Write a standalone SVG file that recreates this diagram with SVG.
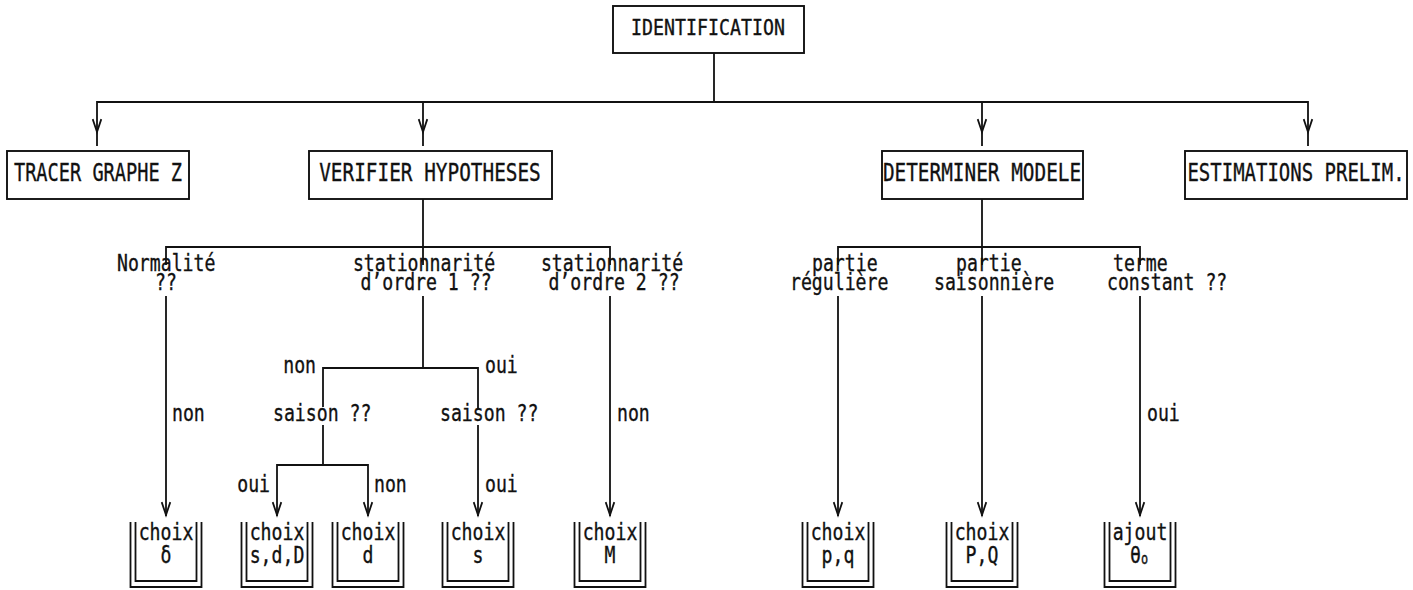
<svg xmlns="http://www.w3.org/2000/svg" xmlns:xlink="http://www.w3.org/1999/xlink" width="1413" height="590" viewBox="0 0 1413 590">
  <style>
    .ln { stroke: #111; stroke-width: 1.8; fill: none; stroke-linecap: square; }
    .box { stroke: #111; stroke-width: 1.9; fill: #fff; }
    .t { font-family: "DejaVu Sans Mono", "Liberation Mono", monospace; font-size: 23px; fill: #111; stroke: #111; stroke-width: 0.35; }
    .tb { font-size: 25px; }
    .tr { font-size: 22px; }
    .mid { text-anchor: middle; }
    .end { text-anchor: end; }
  </style>
  <defs>
    <!-- open V arrowhead, tip at origin, pointing down -->
    <path id="vhead" class="ln" d="M-4,-12 L0,0 L4,-12"/>
    <!-- open-topped double-walled tray used for the leaf choices -->
    <path id="tray" class="ln" d="M-35.5,0 V64 H35.5 V0 M-30.5,0 V58 H30.5 V0"/>
  </defs>
  <rect width="1413" height="590" fill="#fff"/>

  <!-- connectors -->
  <g id="connectors">
    <!-- root to first level -->
    <path class="ln" d="M714,53 V102 M97,102 H1308 M97,102 V145 M423,102 V145 M982,102 V145 M1308,102 V145"/>
    <use xlink:href="#vhead" x="97" y="132"/>
    <use xlink:href="#vhead" x="423" y="132"/>
    <use xlink:href="#vhead" x="982" y="132"/>
    <use xlink:href="#vhead" x="1308" y="132"/>

    <!-- VERIFIER HYPOTHESES branch -->
    <path class="ln" d="M423,199 V247 M166,247 H610 M166,247 V264 M423,247 V264 M610,247 V264"/>
    <path class="ln" d="M166,297 V515 M610,297 V515"/>
    <path class="ln" d="M423,297 V368 M323,368 H478 M323,368 V406 M478,368 V408"/>
    <path class="ln" d="M323,426 V465 M277,465 H368 M277,465 V515 M368,465 V515 M478,426 V515"/>
    <use xlink:href="#vhead" x="166" y="515"/>
    <use xlink:href="#vhead" x="277" y="515"/>
    <use xlink:href="#vhead" x="368" y="515"/>
    <use xlink:href="#vhead" x="478" y="515"/>
    <use xlink:href="#vhead" x="610" y="515"/>

    <!-- DETERMINER MODELE branch -->
    <path class="ln" d="M982,199 V247 M838,247 H1140 M838,247 V264 M982,247 V264 M1140,247 V264"/>
    <path class="ln" d="M838,297 V515 M982,297 V515 M1140,297 V515"/>
    <use xlink:href="#vhead" x="838" y="515"/>
    <use xlink:href="#vhead" x="982" y="515"/>
    <use xlink:href="#vhead" x="1140" y="515"/>

    <!-- answer labels -->
    <text class="t" transform="matrix(0.79 0 0 1 172 421)">non</text>
    <text class="t end" transform="matrix(0.79 0 0 1 316 373)">non</text>
    <text class="t" transform="matrix(0.79 0 0 1 485 373)">oui</text>
    <text class="t end" transform="matrix(0.79 0 0 1 270 492)">oui</text>
    <text class="t" transform="matrix(0.79 0 0 1 374 492)">non</text>
    <text class="t" transform="matrix(0.79 0 0 1 485 492)">oui</text>
    <text class="t" transform="matrix(0.79 0 0 1 617 421)">non</text>
    <text class="t" transform="matrix(0.79 0 0 1 1147 421)">oui</text>
  </g>

  <!-- root -->
  <g id="identification">
    <rect class="box" x="613" y="6" width="191" height="47"/>
    <text class="t tr mid" transform="matrix(0.83 0 0 1 708 35)">IDENTIFICATION</text>
  </g>

  <!-- first level -->
  <g id="tracer-graphe">
    <rect class="box" x="7" y="151" width="182" height="48"/>
    <text class="t tb mid" transform="matrix(0.745 0 0 1 98 181)">TRACER GRAPHE Z</text>
  </g>
  <g id="verifier-hypotheses">
    <rect class="box" x="309" y="151" width="243" height="48"/>
    <text class="t tb mid" transform="matrix(0.775 0 0 1 430 181)">VERIFIER HYPOTHESES</text>
  </g>
  <g id="determiner-modele">
    <rect class="box" x="882" y="151" width="201" height="48"/>
    <text class="t tb mid" transform="matrix(0.775 0 0 1 982 181)">DETERMINER MODELE</text>
  </g>
  <g id="estimations-prelim">
    <rect class="box" x="1185" y="151" width="222" height="48"/>
    <text class="t tb mid" transform="matrix(0.76 0 0 1 1296 181)">ESTIMATIONS PRELIM.</text>
  </g>

  <!-- questions -->
  <g id="q-normalite">
    <text class="t" transform="matrix(0.79 0 0 1 117 271)">Normalité</text>
    <text class="t mid" transform="matrix(0.79 0 0 1 166 290)">??</text>
  </g>
  <g id="q-stationnarite-1">
    <text class="t mid" transform="matrix(0.79 0 0 1 424 271)">stationnarité</text>
    <text class="t mid" transform="matrix(0.79 0 0 1 426 290)">d’ordre 1 ??</text>
  </g>
  <g id="q-stationnarite-2">
    <text class="t mid" transform="matrix(0.79 0 0 1 612 271)">stationnarité</text>
    <text class="t mid" transform="matrix(0.79 0 0 1 614 290)">d’ordre 2 ??</text>
  </g>
  <g id="q-saison-non">
    <text class="t" transform="matrix(0.79 0 0 1 273 421)">saison ??</text>
  </g>
  <g id="q-saison-oui">
    <text class="t" transform="matrix(0.79 0 0 1 440 421)">saison ??</text>
  </g>
  <g id="q-partie-reguliere">
    <text class="t" transform="matrix(0.79 0 0 1 812 271)">partie</text>
    <text class="t" transform="matrix(0.79 0 0 1 790 290)">régulière</text>
  </g>
  <g id="q-partie-saisonniere">
    <text class="t" transform="matrix(0.79 0 0 1 956 271)">partie</text>
    <text class="t" transform="matrix(0.79 0 0 1 934 290)">saisonnière</text>
  </g>
  <g id="q-terme-constant">
    <text class="t" transform="matrix(0.79 0 0 1 1113 271)">terme</text>
    <text class="t" transform="matrix(0.79 0 0 1 1107 290)">constant ??</text>
  </g>

  <!-- leaf choices -->
  <g id="choix-delta">
    <use xlink:href="#tray" x="166" y="523"/>
    <text class="t mid" transform="matrix(0.79 0 0 1 166 540)">choix</text>
    <text class="t mid" transform="matrix(0.79 0 0 1 166 563)">δ</text>
  </g>
  <g id="choix-sdD">
    <use xlink:href="#tray" x="277" y="523"/>
    <text class="t mid" transform="matrix(0.79 0 0 1 277 540)">choix</text>
    <text class="t mid" transform="matrix(0.79 0 0 1 277 563)">s,d,D</text>
  </g>
  <g id="choix-d">
    <use xlink:href="#tray" x="368" y="523"/>
    <text class="t mid" transform="matrix(0.79 0 0 1 368 540)">choix</text>
    <text class="t mid" transform="matrix(0.79 0 0 1 368 563)">d</text>
  </g>
  <g id="choix-s">
    <use xlink:href="#tray" x="478" y="523"/>
    <text class="t mid" transform="matrix(0.79 0 0 1 478 540)">choix</text>
    <text class="t mid" transform="matrix(0.79 0 0 1 478 563)">s</text>
  </g>
  <g id="choix-M">
    <use xlink:href="#tray" x="610" y="523"/>
    <text class="t mid" transform="matrix(0.79 0 0 1 610 540)">choix</text>
    <text class="t mid" transform="matrix(0.79 0 0 1 610 563)">M</text>
  </g>
  <g id="choix-pq">
    <use xlink:href="#tray" x="838" y="523"/>
    <text class="t mid" transform="matrix(0.79 0 0 1 838 540)">choix</text>
    <text class="t mid" transform="matrix(0.79 0 0 1 838 563)">p,q</text>
  </g>
  <g id="choix-PQ">
    <use xlink:href="#tray" x="982" y="523"/>
    <text class="t mid" transform="matrix(0.79 0 0 1 982 540)">choix</text>
    <text class="t mid" transform="matrix(0.79 0 0 1 982 563)">P,Q</text>
  </g>
  <g id="ajout-theta">
    <use xlink:href="#tray" x="1140" y="523"/>
    <text class="t mid" transform="matrix(0.79 0 0 1 1140 540)">ajout</text>
    <text class="t" transform="matrix(0.79 0 0 1 1130 563)">θ<tspan font-size="15" dy="1">o</tspan></text>
  </g>
</svg>
